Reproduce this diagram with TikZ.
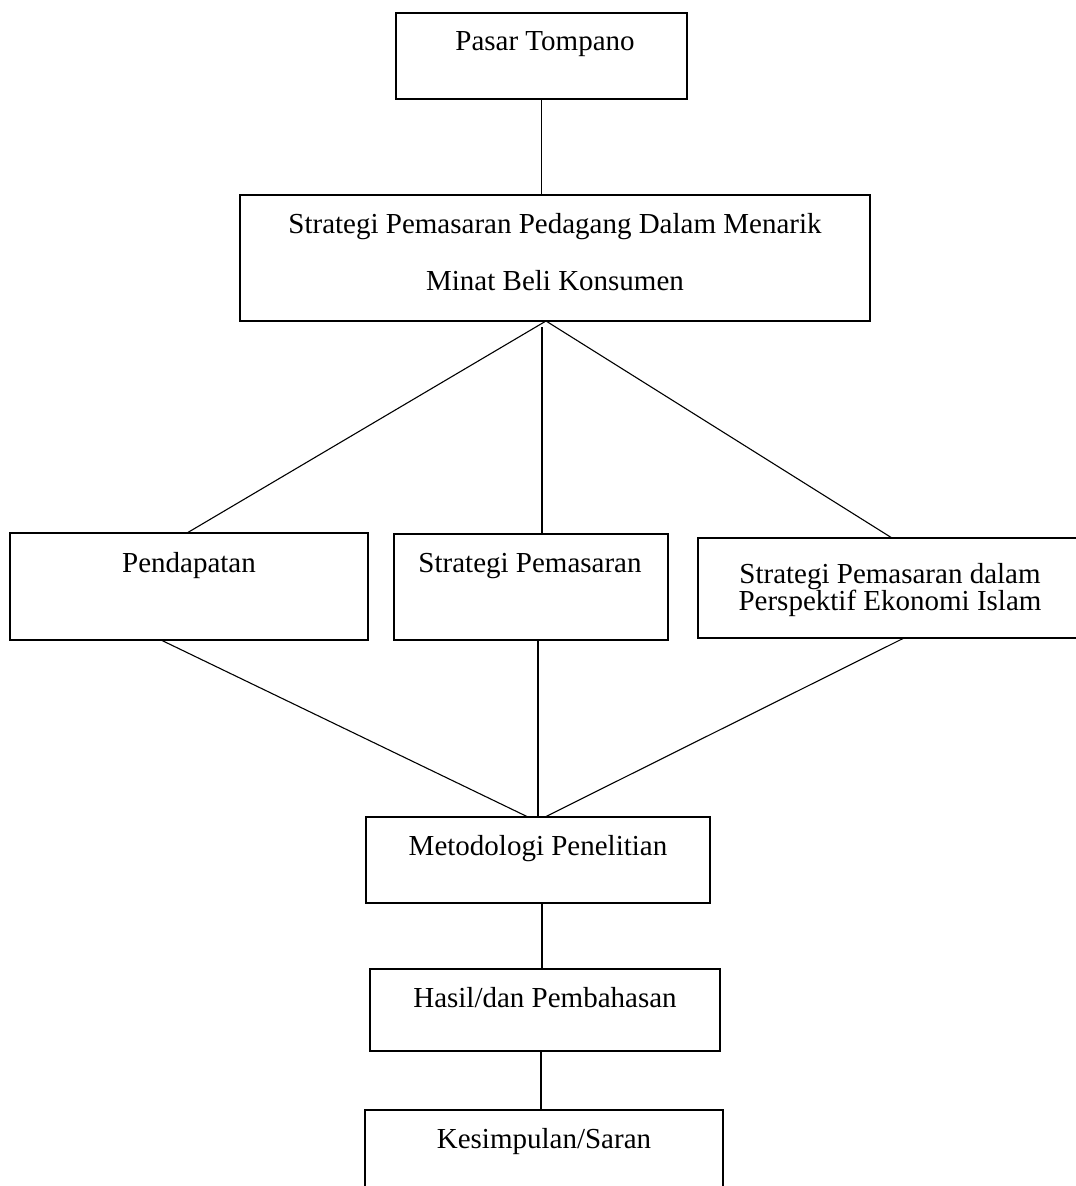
\documentclass[tikz,border=0pt]{standalone}
\usepackage{fontspec}
\setmainfont{Liberation Serif}
\begin{document}
\begin{tikzpicture}[x=1pt,y=-1pt,
  box/.style={draw=black, line width=1.1pt, inner sep=0pt, outer sep=0pt, anchor=north west},
  lbl/.style={font=\fontsize{29}{30}\selectfont, inner sep=0pt, anchor=base},
  conn/.style={draw=black, line width=1.1pt}]
\useasboundingbox (0,0) rectangle (1076,1186);
% boxes
\node[box, minimum width=291pt, minimum height=86pt]  (b1) at (396,13) {};
\node[box, minimum width=630pt, minimum height=126pt] (b2) at (240,195) {};
\node[box, minimum width=358pt, minimum height=107pt] (b3) at (10,533) {};
\node[box, minimum width=274pt, minimum height=106pt] (b4) at (394,534) {};
\node[box, minimum width=384pt, minimum height=100pt] (b5) at (698,538) {};
\node[box, minimum width=344pt, minimum height=86pt]  (b6) at (366,817) {};
\node[box, minimum width=350pt, minimum height=82pt]  (b7) at (370,969) {};
\node[box, minimum width=358pt, minimum height=110pt] (b8) at (365,1110) {};
% texts
\node[lbl] (t1)  at (545,50)   {Pasar Tompano};
\node[lbl] (t2a) at (555,233)  {Strategi Pemasaran Pedagang Dalam Menarik};
\node[lbl] (t2b) at (555,290)  {Minat Beli Konsumen};
\node[lbl] (t3)  at (189,572)  {Pendapatan};
\node[lbl] (t4)  at (530,572)  {Strategi Pemasaran};
\node[lbl] (t5a) at (890,583)  {Strategi Pemasaran dalam};
\node[lbl] (t5b) at (890,610)  {Perspektif Ekonomi Islam};
\node[lbl] (t6)  at (538,855)  {Metodologi Penelitian};
\node[lbl] (t7)  at (545,1007) {Hasil/dan Pembahasan};
\node[lbl] (t8)  at (544,1148) {Kesimpulan/Saran};
% connectors
\draw[conn] (b1.south) -- (b1.south |- b2.north);
\draw[conn] ([xshift=-9pt]b2.south) -- ([xshift=-2pt]b3.north);
\draw[conn] ([xshift=-13pt,yshift=-6pt]b2.south) -- ([xshift=11pt]b4.north);
\draw[conn] ([xshift=-9pt]b2.south) -- ([xshift=2pt]b5.north);
\draw[conn] ([xshift=-28pt]b3.south) -- ([xshift=-10pt]b6.north);
\draw[conn] ([xshift=7pt]b4.south) -- (b6.north);
\draw[conn] ([xshift=14pt]b5.south) -- ([xshift=7pt]b6.north);
\draw[conn] ([xshift=4pt]b6.south) -- ([xshift=4pt]b6.south |- b7.north);
\draw[conn] ([xshift=-4pt]b7.south) -- ([xshift=-4pt]b7.south |- b8.north);
\end{tikzpicture}
\end{document}
